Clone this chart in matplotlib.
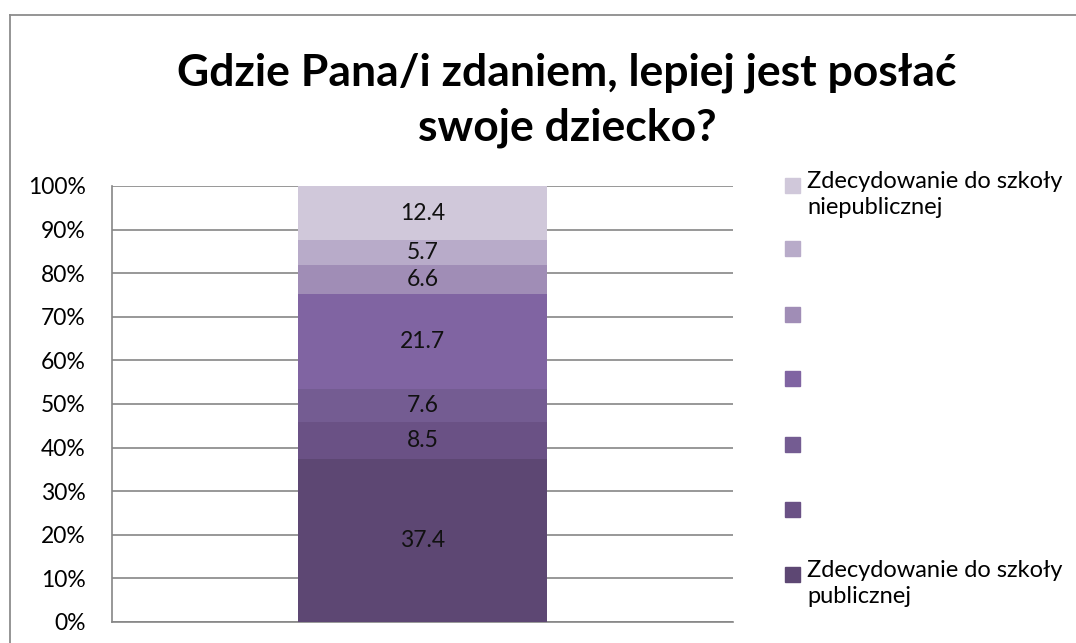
import matplotlib
matplotlib.use("Agg")
import matplotlib.pyplot as plt
from matplotlib.patches import Rectangle
from matplotlib.lines import Line2D
import numpy as np

plt.rcParams['font.family'] = ['Lato', 'DejaVu Sans']

title = "Gdzie Pana/i zdaniem, lepiej jest posłać\nswoje dziecko?"
values = [37.4, 8.5, 7.6, 21.7, 6.6, 5.7, 12.4]
colors = ['#5D4773', '#6A5185', '#745C92', '#8064A2', '#A08DB6', '#B8ABC9', '#D0C8DA']
legend_labels = ['Zdecydowanie do szkoły\npublicznej', '', '', '', '', '', 'Zdecydowanie do szkoły\nniepublicznej']
yticks = np.arange(0, 101, 10)
yticklabels = [f"{t}%" for t in yticks]

W, H = 1076, 643
fig = plt.figure(figsize=(W / 100, H / 100), dpi=100)

# outer frame
fig.add_artist(Line2D([10 / W, 1.0], [1 - 15 / H, 1 - 15 / H], color='#8C8C8C', lw=1.3, transform=fig.transFigure))
fig.add_artist(Line2D([10 / W, 10 / W], [0, 1 - 15 / H], color='#8C8C8C', lw=1.3, transform=fig.transFigure))

left, right, top, bottom = 112, 733, 186, 622
ax = fig.add_axes([left / W, 1 - bottom / H, (right - left) / W, (bottom - top) / H])

total = sum(values)
pct = [v / total * 100 for v in values]
base = 0
for v, p, c in zip(values, pct, colors):
    ax.bar(0, p, bottom=base, width=0.4, color=c, zorder=3)
    ax.text(0, base + p / 2, f"{v}", ha='center', va='center', fontsize=16.5, color='#111111', zorder=4)
    base += p

ax.set_xlim(-0.5, 0.5)
ax.set_ylim(0, 100)
ax.set_yticks(yticks)
ax.set_yticklabels(yticklabels, fontsize=16.5)
ax.set_xticks([])
ax.yaxis.grid(True, color='#868686', lw=1.2, zorder=0)
ax.tick_params(axis='y', length=0, pad=19)
for s in ['top', 'right']:
    ax.spines[s].set_visible(False)
for s in ['left', 'bottom']:
    ax.spines[s].set_color('#868686')
    ax.spines[s].set_linewidth(1.2)

fig.text(567 / W, 1 - 100 / H, title, ha='center', va='center', fontsize=32,
         fontweight='bold', linespacing=1.45)

# legend (top entry = last series)
ys = [574, 509, 444, 379, 314, 249, 185]
for lab, c, y in zip(legend_labels, colors, ys):
    fig.add_artist(Rectangle((785 / W, 1 - (y + 7.5) / H), 15 / W, 15 / H, color=c, transform=fig.transFigure))
    if lab:
        fig.text(807 / W, 1 - (y - 14) / H, lab, ha='left', va='top', fontsize=17, linespacing=1.3)

fig.savefig('out.png', dpi=100)
